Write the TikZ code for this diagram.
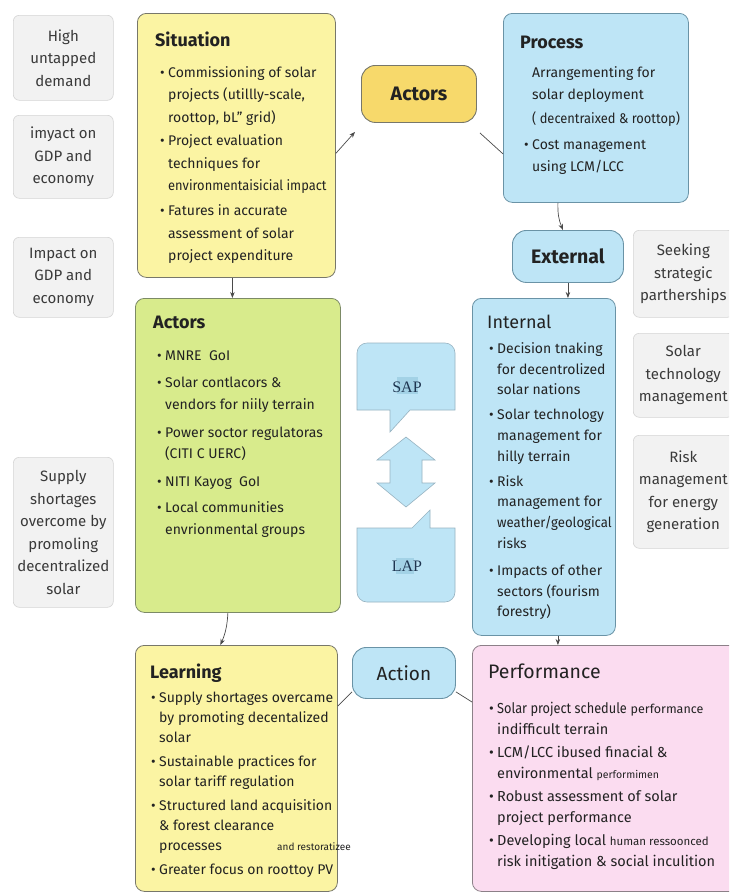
\documentclass[tikz,border=0pt]{standalone}
\usepackage{fontspec}
\usepackage{graphicx}
\setmainfont{Fira Sans}
\newfontfamily\calloutfont{Liberation Serif}
\usetikzlibrary{arrows.meta}

\definecolor{yellowfill}{HTML}{FBF4A3}
\definecolor{yellowline}{HTML}{77776A}
\definecolor{goldfill}{HTML}{F7D96B}
\definecolor{greenfill}{HTML}{D8EB8C}
\definecolor{greenline}{HTML}{7C8A66}
\definecolor{bluefill}{HTML}{BEE5F6}
\definecolor{blueline}{HTML}{6A93A6}
\definecolor{pinkfill}{HTML}{FBDCF0}
\definecolor{pinkline}{HTML}{8C8088}
\definecolor{greyfill}{HTML}{F2F2F2}
\definecolor{greyline}{HTML}{D5D5D5}
\definecolor{inkcol}{HTML}{222222}
\definecolor{greyink}{HTML}{3A3A3A}
\definecolor{linecol}{HTML}{4A4A4A}
\definecolor{calloutink}{HTML}{1E3550}
\definecolor{calloutmark}{HTML}{A3D2E6}

% bullet and hanging indent for the lists
\newcommand{\bul}{\makebox[8pt][l]{\textbullet}}
\newcommand{\ind}{\hspace*{8pt}}
\newcommand{\tstrut}{\rule{0pt}{14pt}}
\newcommand{\smalltxt}[2][10.5]{{\fontsize{#1}{#1}\selectfont #2}}
\newcommand{\squeeze}[2]{\scalebox{#1}[1]{#2}}

\tikzset{
  panel/.style={rounded corners=9pt, line width=0.8pt, anchor=north west, inner sep=0pt},
  sidebox/.style={rounded corners=6pt, line width=0.6pt, draw=greyline, fill=greyfill,
    anchor=north west, inner sep=0pt, align=center, text=greyink,
    font={\fontsize{15}{22.5}\selectfont}},
  pill/.style={rounded corners=14pt, line width=0.9pt, anchor=north west, inner sep=0pt,
    text=inkcol, font={\fontsize{19.5}{22}\selectfont\bfseries}},
  heading/.style={anchor=base west, inner sep=0pt, text=inkcol,
    font={\fontsize{18}{20}\selectfont\bfseries}},
  body/.style={anchor=north west, align=left, inner sep=0pt, text=inkcol},
  conn/.style={draw=linecol, line width=0.7pt},
  tip/.style={-{Stealth[length=6pt,width=4.5pt]}},
  callout/.style={fill=bluefill, draw=blueline!70, line width=0.6pt},
}

\begin{document}
\begin{tikzpicture}[x=1pt,y=-1pt]
\useasboundingbox (0,0) rectangle (729,892);
\clip (0,0) rectangle (729,892);
\fill[white] (0,0) rectangle (729,892);

% ---------- left side notes ----------
\node[sidebox, minimum width=100pt, minimum height=85pt] (demand) at (13,15)
  {High\\untapped\\demand};
\node[sidebox, minimum width=100pt, minimum height=83pt] (gdpa) at (13,115)
  {imyact on\\GDP and\\economy};
\node[sidebox, minimum width=100pt, minimum height=80pt] (gdpb) at (13,237)
  {Impact on\\GDP and\\economy};
\node[sidebox, minimum width=100pt, minimum height=150pt] (supply) at (13,457)
  {Supply\\shortages\\overcome by\\promoling\\decentralized\\solar};

% ---------- right side notes ----------
\node[sidebox, minimum width=100pt, minimum height=87pt] (partner) at (633,230)
  {Seeking\\strategic\\partherships};
\node[sidebox, minimum width=100pt, minimum height=84pt] (soltech) at (633,333)
  {Solar\\technology\\management};
\node[sidebox, minimum width=100pt, minimum height=113pt] (riskgen) at (633,435)
  {Risk\\management\\for energy\\generation};

% ---------- main panels ----------
\node[panel, draw=yellowline, fill=yellowfill, minimum width=198pt, minimum height=264pt]
  (situation) at (137,13) {};
\node[panel, draw=blueline, fill=bluefill, minimum width=185pt, minimum height=189pt]
  (process) at (503,13) {};
\node[pill, draw=yellowline, fill=goldfill, minimum width=115pt, minimum height=57pt]
  (actorpill) at (361,65) {Actors};
\node[pill, draw=blueline, fill=bluefill, minimum width=111pt, minimum height=52pt]
  (external) at (512,230) {External};
\node[panel, draw=greenline, fill=greenfill, minimum width=205pt, minimum height=314pt]
  (actors) at (135,298) {};
\node[panel, draw=blueline, fill=bluefill, minimum width=143pt, minimum height=337pt]
  (internal) at (472,298) {};
\node[panel, draw=yellowline, fill=yellowfill, minimum width=202pt, minimum height=246pt]
  (learning) at (135,645) {};
\node[pill, draw=blueline, fill=bluefill, minimum width=103pt, minimum height=51pt,
  font={\fontsize{19}{22}\selectfont}] (action) at (352,647) {Action};
\node[panel, draw=pinkline, fill=pinkfill, minimum width=270pt, minimum height=246pt]
  (performance) at (472,645) {};

% ---------- panel headings ----------
\node[heading] (situationhead) at (155,46) {Situation};
\node[heading] (processhead) at (520,48) {Process};
\node[heading] (actorshead) at (153,328) {Actors};
\node[heading, font={\fontsize{18}{20}\selectfont}] (internalhead) at (487,328) {Internal};
\node[heading] (learninghead) at (150,678) {Learning};
\node[heading, font={\fontsize{19.5}{20}\selectfont}] (performancehead) at (488,678) {Performance};

% ---------- panel texts ----------
\node[body, font={\fontsize{14}{22.5}\selectfont}] (situationtext) at (160,63)
  {\tstrut\bul Commissioning of solar\\
   \ind projects (utillly-scale,\\
   \ind roottop, bL" grid)\\[1pt]
   \bul Project evaluation\\
   \ind techniques for\\
   \ind \squeeze{0.92}{environmentaisicial impact}\\[2.5pt]
   \bul Fatures in accurate\\
   \ind assessment of solar\\
   \ind project expenditure};

\node[body, font={\fontsize{14}{22}\selectfont}] (processtext) at (524,63)
  {\tstrut\ind Arrangementing for\\
   \ind solar deployment\\[2pt]
   \ind \squeeze{0.92}{( decentraixed \& roottop)}\\[4pt]
   \bul Cost management\\
   \ind using LCM/LCC};

\node[body, font={\fontsize{14}{21.5}\selectfont}] (actorstext) at (157,346)
  {\tstrut\bul MNRE\ \ GoI\\[6pt]
   \bul Solar contlacors \&\\
   \ind vendors for niily terrain\\[6.5pt]
   \bul Power soctor regulatoras\\
   \ind (CITI C UERC)\\[6.5pt]
   \bul NITI Kayog\ \ GoI\\[4.5pt]
   \bul Local communities\\
   \ind envrionmental groups};

\node[body, font={\fontsize{14}{20.8}\selectfont}] (internaltext) at (489,339)
  {\tstrut\bul Decision tnaking\\
   \ind for decentrolized\\
   \ind solar nations\\[4pt]
   \bul Solar technology\\
   \ind management for\\
   \ind hilly terrain\\[4pt]
   \bul Risk\\
   \ind management for\\
   \ind \squeeze{0.94}{weather/geological}\\
   \ind risks\\[6pt]
   \bul Impacts of other\\
   \ind sectors (fourism\\
   \ind forestry)};

\node[body, font={\fontsize{14}{20}\selectfont}] (learningtext) at (151,688)
  {\tstrut\bul Supply shortages overcame\\
   \ind by promoting decentalized\\
   \ind solar\\[4.5pt]
   \bul Sustainable practices for\\
   \ind solar tariff regulation\\[4pt]
   \bul Structured land acquisition\\
   \ind \& forest clearance\\
   \ind \makebox[118pt][l]{processes}\smalltxt[10]{and restoratizee}\\[4pt]
   \bul Greater focus on roottoy PV};

\node[body, font={\fontsize{14.5}{21}\selectfont}] (performancetext) at (489,699)
  {\tstrut\bul \squeeze{0.88}{Solar project schedule} \smalltxt[12.5]{performance}\\
   \ind indifficult terrain\\[2pt]
   \bul LCM/LCC ibused finacial \&\\
   \ind environmental \smalltxt[10.5]{performimen}\\[2pt]
   \bul Robust assessment of solar\\
   \ind project performance\\[2pt]
   \bul Developing local \smalltxt[11.5]{human ressoonced}\\
   \ind risk initigation \& social inculition};

% ---------- SAP / LAP exchange ----------
\draw[callout] (410,410) -- (390,432) -- (390,410) -- (357,410)
  [rounded corners=10pt] -- (357,343) -- (455,343) [sharp corners] -- (455,410) -- cycle;
\draw[callout] (412,528) -- (430,510) -- (430,528) -- (455,528)
  [rounded corners=10pt] -- (455,602) -- (357,602) [sharp corners] -- (357,528) -- cycle;
\fill[calloutmark] (397,377) rectangle (418,394);
\fill[calloutmark] (396,558) rectangle (414,574);
\node[inner sep=0pt, text=calloutink, font={\calloutfont\fontsize{16}{18}\selectfont}]
  (sap) at (407,387) {SAP};
\node[inner sep=0pt, text=calloutink, font={\calloutfont\fontsize{16}{18}\selectfont}]
  (lap) at (407,566) {LAP};
\draw[callout] (406,437) -- (435,460) -- (422,460) -- (422,483) -- (435,483)
  -- (406,507) -- (377,483) -- (390,483) -- (390,460) -- (377,460) -- cycle;

% ---------- connectors ----------
\draw[conn,tip] ([yshift=-8pt]situation.east) -- ([xshift=-6pt,yshift=-9pt]actorpill.south west);
\draw[conn] ([xshift=3pt,yshift=-10pt]actorpill.south east) -- ([yshift=-46pt]process.west);
\draw[conn,tip] ([xshift=-38pt]process.south) to[bend right=12] ([xshift=-5pt]external.north);
\draw[conn,tip] (external.south) -- (external.south |- internal.north);
\draw[conn,tip] ([xshift=-4pt]situation.south) -- ([xshift=-4pt]situation.south |- actors.north);
\draw[conn,tip] ([xshift=-10pt]actors.south) to[bend left=10] ([xshift=-16pt]learning.north);
\draw[conn] ([yshift=-61pt]learning.north east) -- (action.200);
\draw[conn] (action.-20) -- ([yshift=-57pt]performance.north west);
\draw[conn,tip] ([xshift=14pt]internal.south) -- ([xshift=14pt]internal.south |- performance.north);
\end{tikzpicture}
\end{document}
